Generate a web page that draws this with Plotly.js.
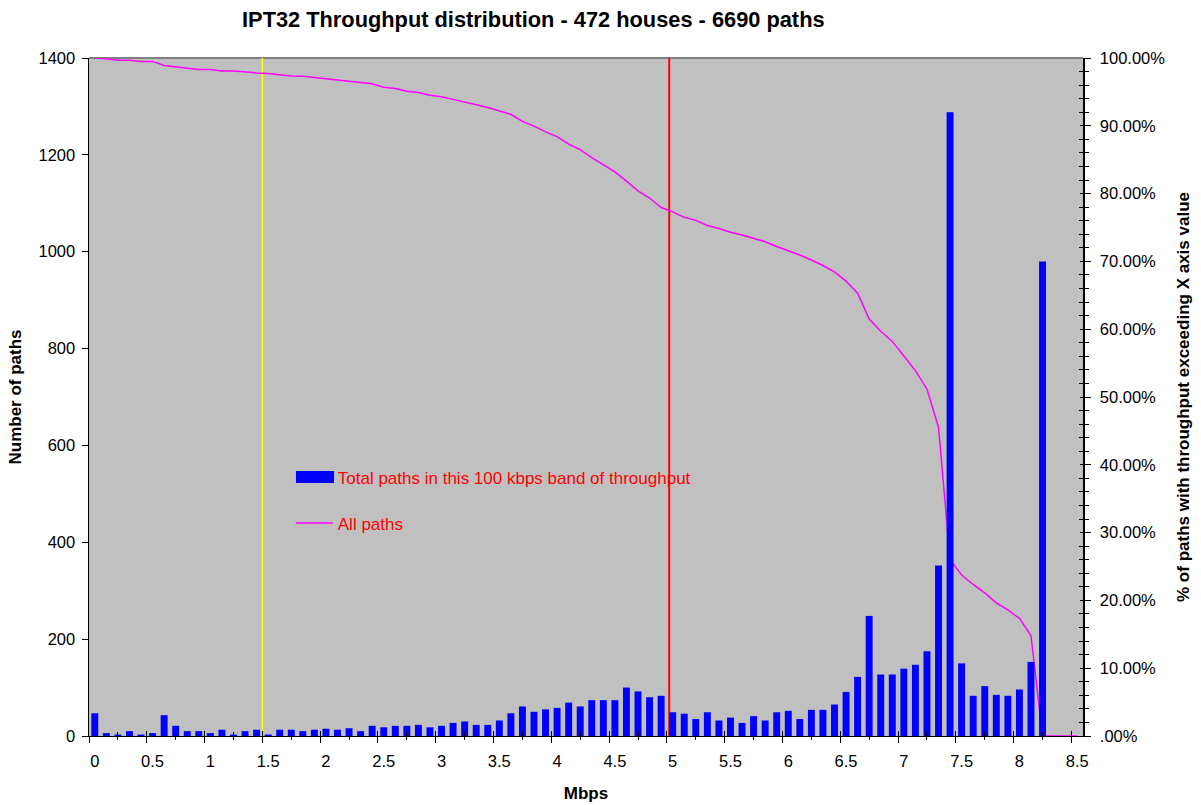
<!DOCTYPE html>
<html>
<head>
<meta charset="utf-8">
<script src="https://cdn.plot.ly/plotly-3.0.1.min.js"></script>
<style>
  html, body { margin: 0; padding: 0; background: #ffffff; }
  #chart { width: 1201px; height: 805px; }
</style>
</head>
<body>
<div id="chart"></div>
<script>
// Throughput bands (Mbps), one per 100 kbps
const mbps = [0.0,0.1,0.2,0.3,0.4,0.5,0.6,0.7,0.8,0.9,
  1.0,1.1,1.2,1.3,1.4,1.5,1.6,1.7,1.8,1.9,
  2.0,2.1,2.2,2.3,2.4,2.5,2.6,2.7,2.8,2.9,
  3.0,3.1,3.2,3.3,3.4,3.5,3.6,3.7,3.8,3.9,
  4.0,4.1,4.2,4.3,4.4,4.5,4.6,4.7,4.8,4.9,
  5.0,5.1,5.2,5.3,5.4,5.5,5.6,5.7,5.8,5.9,
  6.0,6.1,6.2,6.3,6.4,6.5,6.6,6.7,6.8,6.9,
  7.0,7.1,7.2,7.3,7.4,7.5,7.6,7.7,7.8,7.9,
  8.0,8.1,8.2,8.3,8.4,8.5];

// Number of paths in each 100 kbps band
const pathsPerBand = [47,6,3,10,3,6,43,21,10,10,
  6,13,3,10,13,3,13,13,10,13,
  15,13,16,10,21,18,21,21,23,18,
  21,27,30,23,23,32,47,61,50,55,
  58,69,61,74,74,74,100,92,80,83,
  49,46,35,49,32,38,27,41,32,49,
  52,35,54,54,65,91,122,248,127,127,
  139,147,175,352,1288,150,83,103,85,83,
  96,153,980,0,0,0];

// % of paths with throughput exceeding the X axis value
const pctExceeding = [100,99.9,99.65,99.65,99.5,99.5,98.9,98.7,98.45,98.3,
  98.3,98.1,98.1,97.9,97.8,97.7,97.5,97.35,97.3,97.1,
  96.95,96.75,96.6,96.4,96.2,95.7,95.5,95.1,94.9,94.5,
  94.3,93.9,93.55,93.1,92.7,92.2,91.7,90.65,89.95,89.1,
  88.4,87.3,86.5,85.3,84.3,83.2,81.85,80.4,79.35,77.95,
  77.3,76.5,76.05,75.3,74.85,74.3,73.9,73.35,72.9,72.2,
  71.6,70.95,70.2,69.4,68.45,67.1,65.3,61.5,59.7,58.2,
  56.05,53.9,51.15,45.5,26.0,23.75,22.35,21.1,19.65,18.6,
  17.35,14.8,0,0,0,0];

// Tick labels
const xTickVals = [0,0.5,1,1.5,2,2.5,3,3.5,4,4.5,5,5.5,6,6.5,7,7.5,8,8.5];
const xTickText = ["0","0.5","1","1.5","2","2.5","3","3.5","4","4.5","5","5.5","6","6.5","7","7.5","8","8.5"];
const xMajorTicks = [-0.05,0.45,0.95,1.45,1.95,2.45,2.95,3.45,3.95,4.45,4.95,5.45,5.95,6.45,6.95,7.45,7.95,8.45];
const xMinorTicks = [0.2,0.7,1.2,1.7,2.2,2.7,3.2,3.7,4.2,4.7,5.2,5.7,6.2,6.7,7.2,7.7,8.2];
const pctTickVals = [0,0.1,0.2,0.3,0.4,0.5,0.6,0.7,0.8,0.9,1.0];
const pctTickText = [".00%","10.00%","20.00%","30.00%","40.00%","50.00%","60.00%","70.00%","80.00%","90.00%","100.00%"];
const pctMinorTicks = [0.02,0.04,0.06,0.08,0.12,0.14,0.16,0.18,0.22,0.24,0.26,0.28,0.32,0.34,0.36,0.38,
  0.42,0.44,0.46,0.48,0.52,0.54,0.56,0.58,0.62,0.64,0.66,0.68,0.72,0.74,0.76,0.78,0.82,0.84,0.86,0.88,0.92,0.94,0.96,0.98];

// Reference marker lines (Mbps)
const yellowMarker = 1.45;
const redMarker = 4.97;

const FONT = "Liberation Sans, Arial, Helvetica, sans-serif";
const TICK_SIZE = 16.5;
const AXIS_TITLE_SIZE = 17;

const barTrace = {
  type: 'bar',
  name: 'Total paths in this 100 kbps band of throughput',
  x: mbps,
  y: pathsPerBand,
  xaxis: 'x',
  yaxis: 'y2',
  width: 0.06,
  marker: { color: '#0000FF', line: { color: '#0000FF', width: 0 } },
  legendgroup: 'a',
  hoverinfo: 'x+y'
};

const lineTrace = {
  type: 'scatter',
  mode: 'lines',
  name: 'All paths',
  x: mbps,
  y: pctExceeding.map(v => v / 100),
  xaxis: 'x',
  yaxis: 'y',
  line: { color: '#FF00FF', width: 1.5 },
  legendgroup: 'b',
  hoverinfo: 'x+y'
};

// invisible helper traces so the tick-only overlay axes are drawn
const helperX2 = { type: 'scatter', mode: 'markers', x: [null], y: [null], xaxis: 'x2', yaxis: 'y', showlegend: false, hoverinfo: 'skip' };
const helperX3 = { type: 'scatter', mode: 'markers', x: [null], y: [null], xaxis: 'x3', yaxis: 'y', showlegend: false, hoverinfo: 'skip' };
const helperY3 = { type: 'scatter', mode: 'markers', x: [null], y: [null], xaxis: 'x', yaxis: 'y3', showlegend: false, hoverinfo: 'skip' };

const xRange = [-0.05, 8.55];

const layout = {
  width: 1201,
  height: 805,
  margin: { l: 89, r: 118, t: 58, b: 69 },
  paper_bgcolor: '#FFFFFF',
  plot_bgcolor: '#C0C0C0',
  font: { family: FONT, size: TICK_SIZE, color: '#000000' },
  showlegend: true,
  title: {
    text: '<b>IPT32 Throughput distribution - 472 houses - 6690 paths</b>',
    font: { family: FONT, size: 21.8, color: '#000000' },
    x: 0.447, xanchor: 'center', xref: 'paper',
    y: 0.976, yanchor: 'middle', yref: 'container'
  },
  xaxis: {
    range: xRange,
    tickmode: 'array',
    tickvals: xTickVals,
    ticktext: xTickText,
    ticks: '',
    ticklabelstandoff: 10,
    showgrid: false,
    zeroline: false,
    showline: true,
    linecolor: '#000000',
    linewidth: 1,
    tickfont: { family: FONT, size: TICK_SIZE, color: '#000000' },
    title: { text: '<b>Mbps</b>', font: { family: FONT, size: AXIS_TITLE_SIZE, color: '#000000' }, standoff: 18 },
    anchor: 'y2',
    fixedrange: true
  },
  xaxis2: {
    overlaying: 'x',
    anchor: 'y',
    side: 'bottom',
    range: xRange,
    tickmode: 'array',
    tickvals: xMajorTicks,
    ticks: 'outside',
    ticklen: 6,
    tickwidth: 1,
    tickcolor: '#000000',
    showticklabels: false,
    showgrid: false,
    zeroline: false,
    showline: false,
    minor: { tickmode: 'array', tickvals: xMinorTicks, ticks: 'outside', ticklen: 3, tickwidth: 1, tickcolor: '#000000', showgrid: false }
  },
  xaxis3: {
    overlaying: 'x',
    anchor: 'y',
    side: 'bottom',
    range: xRange,
    tickmode: 'array',
    tickvals: xMajorTicks,
    ticks: 'inside',
    ticklen: 5,
    tickwidth: 1,
    tickcolor: '#000000',
    showticklabels: false,
    showgrid: false,
    zeroline: false,
    showline: false,
    minor: { tickmode: 'array', tickvals: xMinorTicks, ticks: 'inside', ticklen: 4, tickwidth: 1, tickcolor: '#000000', showgrid: false }
  },
  yaxis: {
    side: 'right',
    range: [0, 1],
    tickmode: 'array',
    tickvals: pctTickVals,
    ticktext: pctTickText,
    ticks: 'outside',
    ticklen: 6,
    tickwidth: 1,
    tickcolor: '#000000',
    ticklabelstandoff: 6,
    minor: { tickmode: 'array', tickvals: pctMinorTicks, ticks: 'outside', ticklen: 4, tickwidth: 1, tickcolor: '#000000', showgrid: false },
    showgrid: false,
    zeroline: false,
    showline: true,
    linecolor: '#000000',
    linewidth: 1.5,
    tickfont: { family: FONT, size: TICK_SIZE, color: '#000000' },
    title: { text: '<b>% of paths with throughput exceeding X axis value</b>', font: { family: FONT, size: AXIS_TITLE_SIZE, color: '#000000' }, standoff: 13 },
    anchor: 'x',
    fixedrange: true
  },
  yaxis3: {
    overlaying: 'y',
    side: 'right',
    anchor: 'x',
    range: [0, 1],
    tickmode: 'array',
    tickvals: pctTickVals,
    ticks: 'inside',
    ticklen: 3,
    tickwidth: 1,
    tickcolor: '#000000',
    showticklabels: false,
    minor: { tickmode: 'array', tickvals: pctMinorTicks, ticks: 'inside', ticklen: 4, tickwidth: 1, tickcolor: '#000000', showgrid: false },
    showgrid: false,
    zeroline: false,
    showline: false
  },
  yaxis2: {
    overlaying: 'y',
    side: 'left',
    anchor: 'x',
    range: [0, 1400],
    tickmode: 'linear',
    tick0: 0,
    dtick: 200,
    ticks: 'outside',
    ticklen: 6,
    tickwidth: 1,
    tickcolor: '#000000',
    ticklabelstandoff: 3,
    showgrid: false,
    zeroline: false,
    showline: true,
    linecolor: '#000000',
    linewidth: 1.5,
    tickfont: { family: FONT, size: TICK_SIZE, color: '#000000' },
    title: { text: '<b>Number of paths</b>', font: { family: FONT, size: AXIS_TITLE_SIZE, color: '#000000' }, standoff: 12 },
    fixedrange: true
  },
  legend: {
    x: 0.203, xanchor: 'left', xref: 'paper',
    y: 0.408, yanchor: 'top', yref: 'paper',
    bgcolor: 'rgba(0,0,0,0)',
    borderwidth: 0,
    font: { family: FONT, size: 17, color: '#FF0000' },
    traceorder: 'grouped',
    tracegroupgap: 21,
    itemwidth: 37
  },
  shapes: [
    { type: 'line', xref: 'paper', yref: 'paper', x0: 0, x1: 1, y0: 1, y1: 1,
      line: { color: '#808080', width: 2 }, layer: 'below' },
    { type: 'line', xref: 'x', yref: 'paper', x0: yellowMarker, x1: yellowMarker, y0: 0, y1: 1,
      line: { color: '#FFFF00', width: 1.5 }, layer: 'below' },
    { type: 'line', xref: 'x', yref: 'paper', x0: redMarker, x1: redMarker, y0: 0, y1: 1,
      line: { color: '#FF0000', width: 2 }, layer: 'below' },
    // wide legend key for the bar series (Excel-style swatch)
    { type: 'rect', xref: 'paper', yref: 'paper', x0: 0.2082, x1: 0.2465, y0: 0.3732, y1: 0.3909,
      fillcolor: '#0000FF', line: { color: '#0000FF', width: 0 }, layer: 'above' }
  ],
  bargap: 0.4
};

Plotly.newPlot('chart', [barTrace, lineTrace, helperX2, helperX3, helperY3], layout, { displayModeBar: false, staticPlot: true });
</script>
</body>
</html>
